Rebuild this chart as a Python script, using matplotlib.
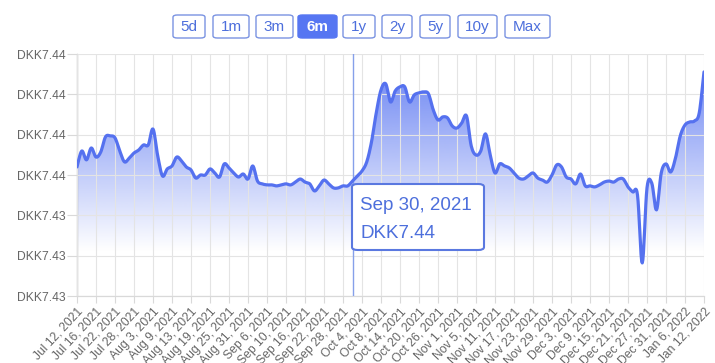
import matplotlib
matplotlib.use("Agg")
import matplotlib.pyplot as plt
from matplotlib.patches import FancyBboxPatch, Polygon
from matplotlib.colors import to_rgb
import numpy as np

plt.rcParams['font.family'] = ['Liberation Sans', 'DejaVu Sans']

# EUR/DKK daily rate, Jul 12 2021 - Jan 12 2022 (one value per trading day)
rates = [
    7.43640, 7.43719, 7.43675, 7.43734, 7.43689, 7.43714, 7.43789, 7.43794,
    7.43784, 7.43719, 7.43665, 7.43684, 7.43709, 7.43724, 7.43749, 7.43749,
    7.43828, 7.43694, 7.43595, 7.43630, 7.43645, 7.43689, 7.43670, 7.43640,
    7.43625, 7.43585, 7.43600, 7.43600, 7.43630, 7.43610, 7.43590, 7.43655,
    7.43635, 7.43610, 7.43590, 7.43605, 7.43580, 7.43645, 7.43570, 7.43556,
    7.43551, 7.43551, 7.43546, 7.43551, 7.43556, 7.43551, 7.43565, 7.43580,
    7.43565, 7.43556, 7.43521, 7.43546, 7.43575, 7.43556, 7.43536, 7.43536,
    7.43546, 7.43546, 7.43570, 7.43595, 7.43620, 7.43665, 7.43764, 7.43908,
    7.44022, 7.44052, 7.43962, 7.44017, 7.44037, 7.44037, 7.43962, 7.43997,
    7.44007, 7.44012, 7.44002, 7.43923, 7.43873, 7.43888, 7.43883, 7.43843,
    7.43833, 7.43858, 7.43893, 7.43744, 7.43699, 7.43719, 7.43804, 7.43699,
    7.43610, 7.43655, 7.43645, 7.43635, 7.43610, 7.43585, 7.43580, 7.43595,
    7.43610, 7.43585, 7.43575, 7.43565, 7.43600, 7.43650, 7.43640, 7.43590,
    7.43580, 7.43556, 7.43605, 7.43546, 7.43546, 7.43541, 7.43551, 7.43565,
    7.43570, 7.43565, 7.43580, 7.43580, 7.43541, 7.43516, 7.43501, 7.43164,
    7.43536, 7.43560, 7.43427, 7.43610, 7.43655, 7.43615, 7.43684, 7.43794,
    7.43848, 7.43863, 7.43868, 7.43908, 7.44111,
]

tick_labels = [
    "Jul 12, 2021", "Jul 16, 2021", "Jul 22, 2021", "Jul 28, 2021",
    "Aug 3, 2021", "Aug 9, 2021", "Aug 13, 2021", "Aug 19, 2021",
    "Aug 25, 2021", "Aug 31, 2021", "Sep 6, 2021", "Sep 10, 2021",
    "Sep 16, 2021", "Sep 22, 2021", "Sep 28, 2021", "Oct 4, 2021",
    "Oct 8, 2021", "Oct 14, 2021", "Oct 20, 2021", "Oct 26, 2021",
    "Nov 1, 2021", "Nov 5, 2021", "Nov 11, 2021", "Nov 17, 2021",
    "Nov 23, 2021", "Nov 29, 2021", "Dec 3, 2021", "Dec 9, 2021",
    "Dec 15, 2021", "Dec 21, 2021", "Dec 27, 2021", "Dec 31, 2021",
    "Jan 6, 2022", "Jan 12, 2022",
]
y_ticks = [7.430, 7.432, 7.434, 7.436, 7.438, 7.440, 7.442]
ranges = ["5d", "1m", "3m", "6m", "1y", "2y", "5y", "10y", "Max"]
active_range = "6m"
hover_index = 58
hover_date = "Sep 30, 2021"

line_color = "#5571ef"
text_blue = "#4d6fdc"


def smooth(xs, ys, steps=8):
    """Catmull-Rom curve through the points, like the web chart's tension line"""
    p = np.column_stack([xs, ys]).astype(float)
    p = np.vstack([p[0], p, p[-1]])
    out = []
    t = np.linspace(0, 1, steps, endpoint=False)[:, None]
    for k in range(1, len(p) - 2):
        p0, p1, p2, p3 = p[k - 1], p[k], p[k + 1], p[k + 2]
        seg = 0.5 * ((2 * p1) + (-p0 + p2) * t
                     + (2 * p0 - 5 * p1 + 4 * p2 - p3) * t ** 2
                     + (-p0 + 3 * p1 - 3 * p2 + p3) * t ** 3)
        out.append(seg)
    out.append(p[-2][None, :])
    out = np.vstack(out)
    return out[:, 0], out[:, 1]


W, H = 715, 363
fig = plt.figure(figsize=(W / 100, H / 100), dpi=100)
ax = fig.add_axes([77 / W, 1 - 296 / H, (704 - 77) / W, (296 - 54) / H])

x = np.arange(len(rates))
y = np.array(rates)
y0, y1 = y_ticks[0], y_ticks[-1]
sx, sy = smooth(x, y)

# gradient fill under the line
rgb = np.array(to_rgb("#5b77f2"))
grad_vals = np.linspace(y0, y1, 256)
alpha = np.clip((grad_vals - 7.4322) / (7.4410 - 7.4322), 0, 1) * 0.85
img = np.zeros((256, 1, 4))
img[:, 0, :3] = rgb
img[:, 0, 3] = alpha
im = ax.imshow(img, extent=[x[0], x[-1], y0, y1], origin="lower",
               aspect="auto", zorder=1, interpolation="bilinear")
poly = Polygon(np.column_stack([np.r_[sx[0], sx, sx[-1]], np.r_[y0, sy, y0]]),
               closed=True, facecolor="none", edgecolor="none")
ax.add_patch(poly)
im.set_clip_path(poly)

ax.plot(sx, sy, color=line_color, lw=2.3, solid_joinstyle="round",
        solid_capstyle="round", zorder=4)

# hover marker line
ax.axvline(hover_index, color="#86a0ea", lw=1.0, zorder=3)

ax.set_xlim(x[0], x[-1])
ax.set_ylim(y0, y1)

tick_pos = list(range(0, len(rates), 4))[:len(tick_labels)]
ax.set_xticks(tick_pos)
ax.set_xticklabels(tick_labels[:len(tick_pos)], rotation=47, ha="right",
                   rotation_mode="anchor", fontsize=8.7, color="#666666")
ax.set_yticks(y_ticks)
ax.set_yticklabels([f"DKK{v:.2f}" for v in y_ticks], fontsize=8.7,
                   color="#666666")
ax.tick_params(axis="y", length=7, color="#d9d9d9", width=0.8, pad=1.5)
ax.tick_params(axis="x", length=5, color="#d9d9d9", width=0.8, pad=2)

ax.grid(True, color="#e4e4e4", lw=0.8, zorder=2)
ax.set_axisbelow(False)
for side in ["top", "right"]:
    ax.spines[side].set_visible(False)
ax.spines["left"].set_color("#9a9a9a")
ax.spines["bottom"].set_color("#d9d9d9")
ax.spines["left"].set_linewidth(0.9)
ax.spines["bottom"].set_linewidth(0.9)

# range buttons
btn_x = [(173, 205), (213, 249), (256, 293), (298, 337), (343, 375),
         (382, 412), (420, 450), (458, 497), (505, 550)]
for label, (bx0, bx1) in zip(ranges, btn_x):
    active = label == active_range
    box = FancyBboxPatch((bx0 / W, 1 - 38 / H), (bx1 - bx0) / W, 23 / H,
                         boxstyle="round,pad=0,rounding_size=0.006",
                         transform=fig.transFigure,
                         facecolor="#5676f2" if active else "white",
                         edgecolor="#5676f2" if active else "#7a93e2",
                         lw=1.0)
    fig.patches.append(box)
    fig.text((bx0 + bx1) / 2 / W, 1 - 27 / H, label, ha="center", va="center",
             fontsize=11, color="white" if active else text_blue,
             fontweight="bold" if active else "normal")

# tooltip
tip = FancyBboxPatch((352 / W, 1 - 250 / H), 132 / W, 66 / H,
                     boxstyle="round,pad=0,rounding_size=0.008",
                     transform=fig.transFigure, facecolor="white",
                     edgecolor="#5a78e0", lw=1.5, zorder=10)
fig.patches.append(tip)
fig.text(360 / W, 1 - 205 / H, hover_date, ha="left", va="center",
         fontsize=13.5, color=text_blue, zorder=11)
fig.text(360 / W, 1 - 233 / H, f"DKK{rates[hover_index]:.2f}", ha="left",
         va="center", fontsize=13.5, color=text_blue, zorder=11)

fig.savefig("out.png", dpi=100)
